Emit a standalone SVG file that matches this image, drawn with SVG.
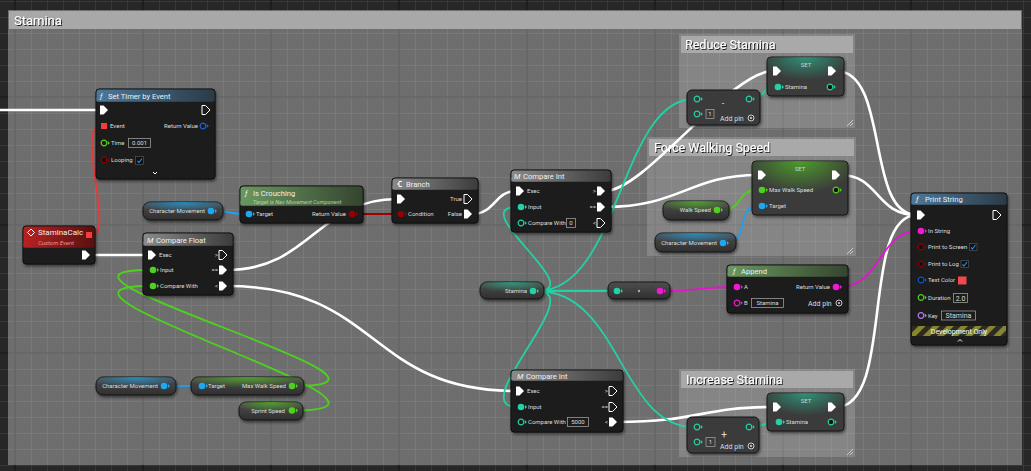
<svg xmlns="http://www.w3.org/2000/svg" width="1031" height="471" viewBox="0 0 1031 471">
<defs>
<style>
.t{font-family:Roboto,"Liberation Sans",sans-serif;font-size:6px;fill:#dcdcdc}
.e{text-anchor:end}
.m{text-anchor:middle}
.tt{font-family:Roboto,"Liberation Sans",sans-serif;font-size:7.6px;fill:#f0f0f0}
.ct{font-family:Roboto,"Liberation Sans",sans-serif;font-size:12.5px;fill:#fff}
.body{fill:#1c1d1d;stroke:#0a0a0a;stroke-width:1}
.var{fill:url(#varG);stroke:#151515;stroke-width:1}
.gry{fill:#3b3b3b;stroke:#151515;stroke-width:1}
.box{fill:none;stroke:#9a9a9a;stroke-width:0.8}
.w{fill:none;stroke:#fff;stroke-width:2.6}
.dw{fill:none;stroke-width:1.8}
.cb{fill:#111;stroke:#555;stroke-width:0.7}
.ck{fill:none;stroke:#2d8cf0;stroke-width:1.1}
</style>
<pattern id="grid" patternUnits="userSpaceOnUse" x="14" y="96" width="128" height="128">
<rect width="128" height="128" fill="#272727"/>
<path d="M17.5,0V128M33.5,0V128M49.5,0V128M65.5,0V128M81.5,0V128M97.5,0V128M113.5,0V128M0,17.5H128M0,33.5H128M0,49.5H128M0,65.5H128M0,81.5H128M0,97.5H128M0,113.5H128" stroke="#383838" stroke-width="1"/>
<path d="M1,0V128M0,1H128" stroke="#1a1a1a" stroke-width="1.6"/>
</pattern>
<pattern id="stripe" patternUnits="userSpaceOnUse" width="10" height="10" patternTransform="rotate(45)">
<rect width="10" height="10" fill="#2b2b22"/><rect width="5" height="10" fill="#87852f"/>
</pattern>
<filter id="sh" x="-10%" y="-10%" width="125%" height="135%"><feDropShadow dx="1" dy="2" stdDeviation="1.5" flood-color="#000" flood-opacity="0.5"/></filter>
<filter id="ts" x="-5%" y="-20%" width="115%" height="150%"><feDropShadow dx="1" dy="1" stdDeviation="0.3" flood-color="#000" flood-opacity="0.8"/></filter>
<linearGradient id="hB" x1="0" x2="1"><stop offset="0" stop-color="#4d7899"/><stop offset="1" stop-color="#2b3b48"/></linearGradient>
<linearGradient id="hG" x1="0" x2="1"><stop offset="0" stop-color="#6a9860"/><stop offset="1" stop-color="#35452f"/></linearGradient>
<linearGradient id="hGr" x1="0" x2="1"><stop offset="0" stop-color="#8a8a8a"/><stop offset="1" stop-color="#3c3c3c"/></linearGradient>
<linearGradient id="hR" x1="0" x2="1"><stop offset="0" stop-color="#b82222"/><stop offset="1" stop-color="#571010"/></linearGradient>
<linearGradient id="varG" x1="0" y1="0" x2="0" y2="1"><stop offset="0" stop-color="#4e4e4e"/><stop offset="1" stop-color="#2f2f2f"/></linearGradient>
<radialGradient id="gBl" cx="0.5" cy="0" r="0.6"><stop offset="0" stop-color="#1ea8f0" stop-opacity="0.7"/><stop offset="1" stop-color="#1ea8f0" stop-opacity="0"/></radialGradient>
<radialGradient id="gGn" cx="0.5" cy="0" r="0.6"><stop offset="0" stop-color="#55d11f" stop-opacity="0.65"/><stop offset="1" stop-color="#55d11f" stop-opacity="0"/></radialGradient>
<radialGradient id="gTl" cx="0.5" cy="0" r="0.6"><stop offset="0" stop-color="#21d8a6" stop-opacity="0.55"/><stop offset="1" stop-color="#21d8a6" stop-opacity="0"/></radialGradient>
<path id="ex" d="M-4,-4.5h3.5l4.5,4.5l-4.5,4.5h-3.5z"/>
<g id="pf"><circle r="3.3"/><path d="M4,-2l2,2l-2,2z"/></g>
<g id="pr"><circle r="2.8" fill="none" stroke-width="1.2"/><path d="M3.8,-2l2,2l-2,2z" stroke="none"/></g>
<g id="pd"><circle r="2.8" fill="#111" stroke-width="1.2"/><path d="M3.8,-2l2,2l-2,2z" stroke="none"/></g>
<g id="plus"><circle r="3" fill="none" stroke="#ddd" stroke-width="0.9"/><circle r="1" fill="#ddd"/></g>
</defs>

<g id="background">
<rect width="1031" height="471" fill="url(#grid)"/>
<rect x="8" y="10" width="1014" height="455" fill="#fff" fill-opacity="0.33"/>
<rect x="9" y="11" width="1012" height="18" fill="#a8a8a8"/>
<text class="ct" x="14" y="25" style="font-size:13px" filter="url(#ts)">Stamina</text>
</g>

<g id="comment-reduce">
<rect x="679" y="34" width="176" height="94" fill="#fff" fill-opacity="0.16"/>
<rect x="681" y="36" width="172" height="17" fill="#a9a9a9"/>
<text class="ct" x="685" y="49" filter="url(#ts)">Reduce Stamina</text>
<path d="M853,120l-6,6M853,123l-3,3" stroke="#ddd" stroke-width="0.8"/>
</g>
<g id="comment-force">
<rect x="647" y="137" width="209" height="119" fill="#fff" fill-opacity="0.16"/>
<rect x="649" y="139" width="205" height="17" fill="#a9a9a9"/>
<text class="ct" x="654" y="152" filter="url(#ts)">Force Walking Speed</text>
<path d="M853,248l-6,6M853,251l-3,3" stroke="#ddd" stroke-width="0.8"/>
</g>
<g id="comment-increase">
<rect x="679" y="369" width="176" height="88" fill="#fff" fill-opacity="0.16"/>
<rect x="681" y="371" width="172" height="17" fill="#a9a9a9"/>
<text class="ct" x="686" y="384" filter="url(#ts)">Increase Stamina</text>
<path d="M853,449l-6,6M853,452l-3,3" stroke="#ddd" stroke-width="0.8"/>
</g>

<g id="connectors">
<path class="w" d="M0,110H100"/>
<path class="w" d="M90,255H148"/>
<path class="dw" stroke="#f03636" d="M92,235C115,235 75,126 101,126"/>
<path class="dw" stroke="#1ea0ee" d="M215,211C232,211 228,214 245,214"/>
<path class="dw" stroke="#a00000" d="M356,214H397"/>
<path class="w" d="M227,270C310,270 318,199 397,199"/>
<path class="w" d="M227,286C380,286 367,391 516,391"/>
<path class="w" d="M472,214C495,214 495,191 516,191"/>
<path class="w" d="M605,191C645,191 730,71 773,71"/>
<path class="w" d="M605,207C680,207 690,175 758,175"/>
<path class="w" d="M617,422C700,422 700,407 773,407"/>
<path class="w" d="M836,71C890,71 865,215 917,215"/>
<path class="w" d="M840,175C880,175 875,215 917,215"/>
<path class="w" d="M836,407C895,407 860,215 917,215"/>
<path class="dw" stroke="#e612cf" d="M840,287C880,287 880,231 917,231"/>
<path class="dw" stroke="#e612cf" d="M664,291C700,291 700,287 733,287"/>
<path class="dw" stroke="#22d1a4" d="M537,291H613"/>
<path class="dw" stroke="#22d1a4" d="M537,291C590,291 464,207 517,207"/>
<path class="dw" stroke="#22d1a4" d="M537,291C590,291 464,407 517,407"/>
<path class="dw" stroke="#22d1a4" d="M537,291C620,291 620,99 694,99"/>
<path class="dw" stroke="#22d1a4" d="M537,291C620,291 620,427 694,427"/>
<path class="dw" stroke="#22d1a4" d="M752,99C765,99 762,87 774,87"/>
<path class="dw" stroke="#22d1a4" d="M752,427C765,427 763,422 775,422"/>
<path class="dw" stroke="#4ed11e" d="M721,210C745,210 735,190 758,190"/>
<path class="dw" stroke="#1ea0ee" d="M727,243C750,243 735,206 758,206"/>
<path class="dw" stroke="#1ea0ee" d="M168,386H198"/>
<path class="dw" stroke="#4ed11e" d="M296,386C450,386 0,270 149,270"/>
<path class="dw" stroke="#4ed11e" d="M296,410.5C450,410.5 0,286 149,286"/>
</g>

<g id="set-timer">
<rect class="body" x="96" y="89" width="119" height="90" rx="3" filter="url(#sh)"/>
<rect x="96.5" y="89.5" width="118" height="12" rx="3" fill="url(#hB)"/>
<rect x="96.5" y="98" width="118" height="3.5" fill="url(#hB)"/>
<text class="tt" x="100" y="98.5" font-style="italic" fill="#cde">ƒ</text>
<text class="tt" x="108" y="98.5">Set Timer by Event</text>
<use href="#ex" x="104" y="110" fill="#fff"/>
<use href="#ex" x="206" y="110" fill="none" stroke="#fff" stroke-width="1"/>
<rect x="101" y="123" width="6" height="6" fill="#f43c3c"/>
<text class="t" x="110" y="128.3">Event</text>
<text class="t e" x="198" y="128.3">Return Value</text>
<use href="#pr" x="203" y="126" stroke="#1565d8" fill="#1565d8"/>
<use href="#pr" x="104" y="143" stroke="#5bd11f" fill="#5bd11f"/>
<text class="t" x="111" y="145.3">Time</text>
<rect class="box" x="128.5" y="138.5" width="22" height="9"/>
<text class="t m" x="139.5" y="145.3">0.001</text>
<use href="#pd" x="104" y="160" stroke="#8a0000" fill="#8a0000"/>
<text class="t" x="111" y="162.3">Looping</text>
<rect class="cb" x="135.5" y="156.5" width="8" height="8"/>
<path class="ck" d="M137.5,161l1.5,1.5l3,-4"/>
<path d="M153,172l2,2l2,-2" stroke="#fff" fill="none" stroke-width="1"/>
</g>

<g id="stamina-calc">
<rect class="body" x="23" y="226" width="72" height="38" rx="3" filter="url(#sh)"/>
<rect x="23.5" y="226.5" width="71" height="21" rx="3" fill="url(#hR)"/>
<rect x="23.5" y="243" width="71" height="4.5" fill="url(#hR)"/>
<path d="M31,229l3.5,3.5l-3.5,3.5l-3.5,-3.5z" fill="none" stroke="#fff" stroke-width="1"/>
<text class="tt" x="38" y="235" style="font-size:8px">StaminaCalc</text>
<text class="t" x="38" y="244.5" font-style="italic" style="font-size:6px;fill:#e89494">Custom Event</text>
<rect x="86" y="232" width="6" height="6" fill="#f43c3c"/>
<use href="#ex" x="86" y="255" fill="#fff"/>
</g>

<g id="char-movement-1">
<rect class="var" x="143" y="202" width="80" height="18" rx="7" filter="url(#sh)"/>
<rect x="143" y="202" width="80" height="18" rx="7" fill="url(#gBl)"/>
<text class="t e" x="205" y="213.2">Character Movement</text>
<use href="#pf" x="211" y="211" fill="#1fa8f0"/>
</g>

<g id="is-crouching">
<rect class="body" x="240" y="186" width="123" height="37" rx="3" filter="url(#sh)"/>
<rect x="240.5" y="186.5" width="122" height="19" rx="3" fill="url(#hG)"/>
<rect x="240.5" y="201" width="122" height="4.5" fill="url(#hG)"/>
<text class="tt" x="245" y="196" font-style="italic" fill="#cfc">ƒ</text>
<text class="tt" x="253" y="196">Is Crouching</text>
<text class="t" x="253" y="204" font-style="italic" style="font-size:5.6px;fill:#b8d3a0">Target is Nav Movement Component</text>
<use href="#pf" x="249" y="214" fill="#1fa8f0"/>
<text class="t" x="256" y="216.3">Target</text>
<text class="t e" x="346" y="216.3">Return Value</text>
<use href="#pf" x="352" y="214" fill="#950000"/>
</g>

<g id="branch">
<rect class="body" x="392" y="178" width="86" height="45" rx="3" filter="url(#sh)"/>
<rect x="392.5" y="178.5" width="85" height="11" rx="3" fill="url(#hGr)"/>
<rect x="392.5" y="186" width="85" height="3.5" fill="url(#hGr)"/>
<path d="M402,181.5h-3v5h3M399,184h-2" fill="none" stroke="#fff" stroke-width="1"/>
<text class="tt" x="406" y="187">Branch</text>
<use href="#ex" x="401" y="199" fill="#fff"/>
<text class="t e" x="462" y="201.3">True</text>
<use href="#ex" x="468" y="199" fill="none" stroke="#fff" stroke-width="1"/>
<use href="#pf" x="401" y="214" fill="#950000"/>
<text class="t" x="408" y="216.3">Condition</text>
<text class="t e" x="462" y="216.3">False</text>
<use href="#ex" x="468" y="214" fill="#fff"/>
</g>

<g id="compare-float">
<rect class="body" x="143" y="233" width="90" height="62" rx="3" filter="url(#sh)"/>
<rect x="143.5" y="233.5" width="89" height="12" rx="3" fill="url(#hGr)"/>
<rect x="143.5" y="242" width="89" height="3.5" fill="url(#hGr)"/>
<text class="tt" x="147" y="242.5" font-style="italic">M</text>
<text class="tt" x="156" y="242.5">Compare Float</text>
<use href="#ex" x="152" y="255" fill="#fff"/>
<text class="t" x="159" y="257.3">Exec</text>
<text class="t e" x="218" y="257.3">&gt;</text>
<use href="#ex" x="223" y="255" fill="none" stroke="#fff" stroke-width="1"/>
<use href="#pf" x="153" y="270" fill="#4ed11e"/>
<text class="t" x="160" y="272.3">Input</text>
<text class="t e" x="218" y="272.3">==</text>
<use href="#ex" x="223" y="270" fill="#fff"/>
<use href="#pf" x="153" y="286" fill="#4ed11e"/>
<text class="t" x="160" y="288.3">Compare With</text>
<text class="t e" x="218" y="288.3">&lt;</text>
<use href="#ex" x="223" y="286" fill="#fff"/>
</g>

<g id="compare-int-top">
<rect class="body" x="511" y="170" width="100" height="62" rx="3" filter="url(#sh)"/>
<rect x="511.5" y="170.5" width="99" height="11" rx="3" fill="url(#hGr)"/>
<rect x="511.5" y="178" width="99" height="3.5" fill="url(#hGr)"/>
<text class="tt" x="514" y="178.8" font-style="italic">M</text>
<text class="tt" x="523" y="178.8">Compare Int</text>
<use href="#ex" x="520" y="191" fill="#fff"/>
<text class="t" x="527" y="193.3">Exec</text>
<text class="t e" x="596" y="193.3">&gt;</text>
<use href="#ex" x="601" y="191" fill="#fff"/>
<use href="#pf" x="521" y="207" fill="#22d1a4"/>
<text class="t" x="528" y="209.3">Input</text>
<text class="t e" x="596" y="209.3">==</text>
<use href="#ex" x="601" y="207" fill="#fff"/>
<use href="#pr" x="521" y="223" stroke="#22d1a4" fill="#22d1a4"/>
<text class="t" x="528" y="225.3">Compare With</text>
<rect class="box" x="566.5" y="218.5" width="9" height="9"/>
<text class="t m" x="571" y="225.3">0</text>
<text class="t e" x="596" y="225.3">&lt;</text>
<use href="#ex" x="601" y="223" fill="none" stroke="#fff" stroke-width="1"/>
</g>

<g id="stamina-get">
<rect class="var" x="480" y="282" width="64" height="17" rx="7" filter="url(#sh)"/>
<rect x="480" y="282" width="64" height="17" rx="7" fill="url(#gTl)"/>
<text class="t e" x="527" y="293.2">Stamina</text>
<use href="#pf" x="533" y="291" fill="#22d1a4"/>
</g>

<g id="to-string">
<rect class="var" x="608" y="282" width="62" height="17" rx="6" filter="url(#sh)"/>
<use href="#pf" x="617" y="291" fill="#22d1a4"/>
<circle cx="639" cy="291" r="1.2" fill="#aaa"/>
<use href="#pf" x="660" y="291" fill="#f01ad6"/>
</g>

<g id="append">
<rect class="body" x="727" y="265" width="121" height="48" rx="3" filter="url(#sh)"/>
<rect x="727.5" y="265.5" width="120" height="11" rx="3" fill="url(#hG)"/>
<rect x="727.5" y="273" width="120" height="3.5" fill="url(#hG)"/>
<text class="tt" x="733" y="274" font-style="italic" fill="#cfc">ƒ</text>
<text class="tt" x="741" y="274">Append</text>
<use href="#pf" x="737" y="287" fill="#f01ad6"/>
<text class="t" x="744" y="289.3">A</text>
<text class="t e" x="830" y="289.3">Return Value</text>
<use href="#pf" x="836" y="287" fill="#f01ad6"/>
<use href="#pr" x="737" y="303" stroke="#f01ad6" fill="#f01ad6"/>
<text class="t" x="744" y="305.3">B</text>
<rect class="box" x="751.5" y="298.5" width="32" height="9"/>
<text class="t m" x="767.5" y="305.3">Stamina</text>
<text class="t" x="808" y="305.8" style="font-size:7px">Add pin</text>
<use href="#plus" x="839" y="303"/>
</g>

<g id="set-reduce">
<rect class="gry" x="767" y="57" width="77" height="39" rx="4" filter="url(#sh)"/>
<rect x="767" y="57" width="77" height="39" rx="4" fill="url(#gTl)"/>
<text class="t m" x="806" y="67" style="fill:#cfcfcf">SET</text>
<use href="#ex" x="777" y="71" fill="#fff"/>
<use href="#ex" x="832" y="71" fill="#fff"/>
<use href="#pf" x="778" y="87" fill="#22d1a4"/>
<text class="t" x="785" y="89.3">Stamina</text>
<use href="#pd" x="830" y="87" stroke="#22d1a4" fill="#22d1a4"/>
</g>

<g id="subtract">
<rect class="gry" x="687" y="90" width="73" height="35" rx="5" filter="url(#sh)"/>
<use href="#pr" x="697" y="99" stroke="#22d1a4" fill="#22d1a4"/>
<use href="#pr" x="697" y="114" stroke="#22d1a4" fill="#22d1a4"/>
<rect class="box" x="706" y="109.5" width="8" height="9"/>
<text class="t m" x="710" y="116.3">1</text>
<use href="#pr" x="749" y="99" stroke="#22d1a4" fill="#22d1a4"/>
<text class="t m" x="723" y="106" style="font-size:9px">-</text>
<text class="t" x="720" y="120.5" style="font-size:7px">Add pin</text>
<use href="#plus" x="751" y="118"/>
</g>

<g id="set-walk">
<rect class="gry" x="752" y="161" width="96" height="54" rx="4" filter="url(#sh)"/>
<rect x="752" y="161" width="96" height="54" rx="4" fill="url(#gGn)"/>
<text class="t m" x="800" y="170.5" style="fill:#cfcfcf">SET</text>
<use href="#ex" x="762" y="175" fill="#fff"/>
<use href="#ex" x="836" y="175" fill="#fff"/>
<use href="#pf" x="762" y="190" fill="#4ed11e"/>
<text class="t" x="769" y="192.3">Max Walk Speed</text>
<use href="#pd" x="836" y="190" stroke="#4ed11e" fill="#4ed11e"/>
<use href="#pf" x="762" y="206" fill="#1fa8f0"/>
<text class="t" x="769" y="208.3">Target</text>
</g>

<g id="walk-speed">
<rect class="var" x="663" y="201" width="66" height="19" rx="7" filter="url(#sh)"/>
<rect x="663" y="201" width="66" height="19" rx="7" fill="url(#gGn)"/>
<text class="t e" x="711" y="212.3">Walk Speed</text>
<use href="#pf" x="717" y="210" fill="#4ed11e"/>
</g>

<g id="char-movement-2">
<rect class="var" x="655" y="233" width="81" height="19" rx="7" filter="url(#sh)"/>
<rect x="655" y="233" width="81" height="19" rx="7" fill="url(#gBl)"/>
<text class="t e" x="717" y="245.2">Character Movement</text>
<use href="#pf" x="723" y="243" fill="#1fa8f0"/>
</g>

<g id="print-string">
<rect class="body" x="911" y="193" width="96" height="152" rx="3" filter="url(#sh)"/>
<rect x="911.5" y="193.5" width="95" height="11" rx="3" fill="url(#hB)"/>
<rect x="911.5" y="201" width="95" height="3.5" fill="url(#hB)"/>
<text class="tt" x="916" y="202" font-style="italic" fill="#cde">ƒ</text>
<text class="tt" x="925" y="202">Print String</text>
<use href="#ex" x="921" y="215" fill="#fff"/>
<use href="#ex" x="997" y="215" fill="none" stroke="#fff" stroke-width="1"/>
<use href="#pf" x="921" y="231" fill="#f01ad6"/>
<text class="t" x="928" y="233.3">In String</text>
<use href="#pd" x="921" y="247" stroke="#8a0000" fill="#8a0000"/>
<text class="t" x="928" y="249.3">Print to Screen</text>
<rect class="cb" x="969.5" y="243.5" width="7.5" height="7"/>
<path class="ck" d="M971,247.5l1.5,1.5l3,-4"/>
<use href="#pd" x="921" y="264" stroke="#8a0000" fill="#8a0000"/>
<text class="t" x="928" y="266.3">Print to Log</text>
<rect class="cb" x="961" y="260.5" width="7.5" height="7"/>
<path class="ck" d="M962.5,264.5l1.5,1.5l3,-4"/>
<use href="#pd" x="921" y="280" stroke="#0d55c8" fill="#0d55c8"/>
<text class="t" x="928" y="282.3">Text Color</text>
<rect x="958" y="276.5" width="8.5" height="8" fill="#f24a4a"/>
<use href="#pr" x="921" y="297.5" stroke="#4ed11e" fill="#4ed11e"/>
<text class="t" x="928" y="299.8">Duration</text>
<rect class="box" x="953.5" y="293.5" width="14" height="9"/>
<text class="t m" x="960.5" y="300.5" style="font-size:7px">2.0</text>
<use href="#pr" x="921" y="315.5" stroke="#b57cf6" fill="#b57cf6"/>
<text class="t" x="928" y="317.8">Key</text>
<rect class="box" x="941.5" y="311" width="34" height="9"/>
<text class="t m" x="958.5" y="318" style="font-size:7px">Stamina</text>
<rect x="912" y="326" width="94" height="10" fill="url(#stripe)"/>
<text class="t m" x="959" y="333.8" style="font-size:7px;fill:#fff">Development Only</text>
<path d="M958,341.5l2,-2l2,2" stroke="#fff" fill="none" stroke-width="1"/>
</g>

<g id="compare-int-bottom">
<rect class="body" x="511" y="370" width="112" height="62" rx="3" filter="url(#sh)"/>
<rect x="511.5" y="370.5" width="111" height="10" rx="3" fill="url(#hGr)"/>
<rect x="511.5" y="377" width="111" height="3.5" fill="url(#hGr)"/>
<text class="tt" x="517" y="378.5" font-style="italic">M</text>
<text class="tt" x="526" y="378.5">Compare Int</text>
<use href="#ex" x="520" y="391" fill="#fff"/>
<text class="t" x="527" y="393.3">Exec</text>
<text class="t e" x="608" y="393.3">&gt;</text>
<use href="#ex" x="613" y="391" fill="none" stroke="#fff" stroke-width="1"/>
<use href="#pf" x="521" y="407" fill="#22d1a4"/>
<text class="t" x="528" y="409.3">Input</text>
<text class="t e" x="608" y="409.3">==</text>
<use href="#ex" x="613" y="407" fill="none" stroke="#fff" stroke-width="1"/>
<use href="#pr" x="521" y="422" stroke="#22d1a4" fill="#22d1a4"/>
<text class="t" x="528" y="424.3">Compare With</text>
<rect class="box" x="567.5" y="417.5" width="21" height="9"/>
<text class="t m" x="578" y="424.3">5000</text>
<text class="t e" x="608" y="424.3">&lt;</text>
<use href="#ex" x="613" y="422" fill="#fff"/>
</g>

<g id="set-increase">
<rect class="gry" x="767" y="393" width="77" height="38" rx="4" filter="url(#sh)"/>
<rect x="767" y="393" width="77" height="38" rx="4" fill="url(#gTl)"/>
<text class="t m" x="806" y="402.5" style="fill:#cfcfcf">SET</text>
<use href="#ex" x="777" y="407" fill="#fff"/>
<use href="#ex" x="832" y="407" fill="#fff"/>
<use href="#pf" x="779" y="422" fill="#22d1a4"/>
<text class="t" x="786" y="424.3">Stamina</text>
<use href="#pd" x="831" y="422" stroke="#22d1a4" fill="#22d1a4"/>
</g>

<g id="add">
<rect class="gry" x="687" y="417" width="72" height="36" rx="5" filter="url(#sh)"/>
<use href="#pr" x="697" y="427" stroke="#22d1a4" fill="#22d1a4"/>
<use href="#pr" x="697" y="442" stroke="#22d1a4" fill="#22d1a4"/>
<rect class="box" x="706" y="437.5" width="9" height="9"/>
<text class="t m" x="710.5" y="444.3">1</text>
<use href="#pr" x="749" y="427" stroke="#22d1a4" fill="#22d1a4"/>
<text class="t m" x="724" y="438" style="font-size:10px">+</text>
<text class="t" x="720" y="448.5" style="font-size:7px">Add pin</text>
<use href="#plus" x="751" y="446"/>
</g>

<g id="char-movement-3">
<rect class="var" x="96" y="377" width="80" height="18" rx="7" filter="url(#sh)"/>
<rect x="96" y="377" width="80" height="18" rx="7" fill="url(#gBl)"/>
<text class="t e" x="158" y="388.2">Character Movement</text>
<use href="#pf" x="164" y="386" fill="#1fa8f0"/>
</g>

<g id="max-walk-speed">
<rect class="var" x="191" y="377" width="113" height="18" rx="7" filter="url(#sh)"/>
<rect x="191" y="377" width="113" height="18" rx="7" fill="url(#gGn)"/>
<use href="#pf" x="202" y="386" fill="#1fa8f0"/>
<text class="t" x="208" y="388.2">Target</text>
<text class="t e" x="286" y="388.2">Max Walk Speed</text>
<use href="#pf" x="292" y="386" fill="#4ed11e"/>
</g>

<g id="sprint-speed">
<rect class="var" x="239" y="402" width="64" height="18" rx="7" filter="url(#sh)"/>
<rect x="239" y="402" width="64" height="18" rx="7" fill="url(#gGn)"/>
<text class="t e" x="285" y="413">Sprint Speed</text>
<use href="#pf" x="292" y="410.5" fill="#4ed11e"/>
</g>
</svg>
